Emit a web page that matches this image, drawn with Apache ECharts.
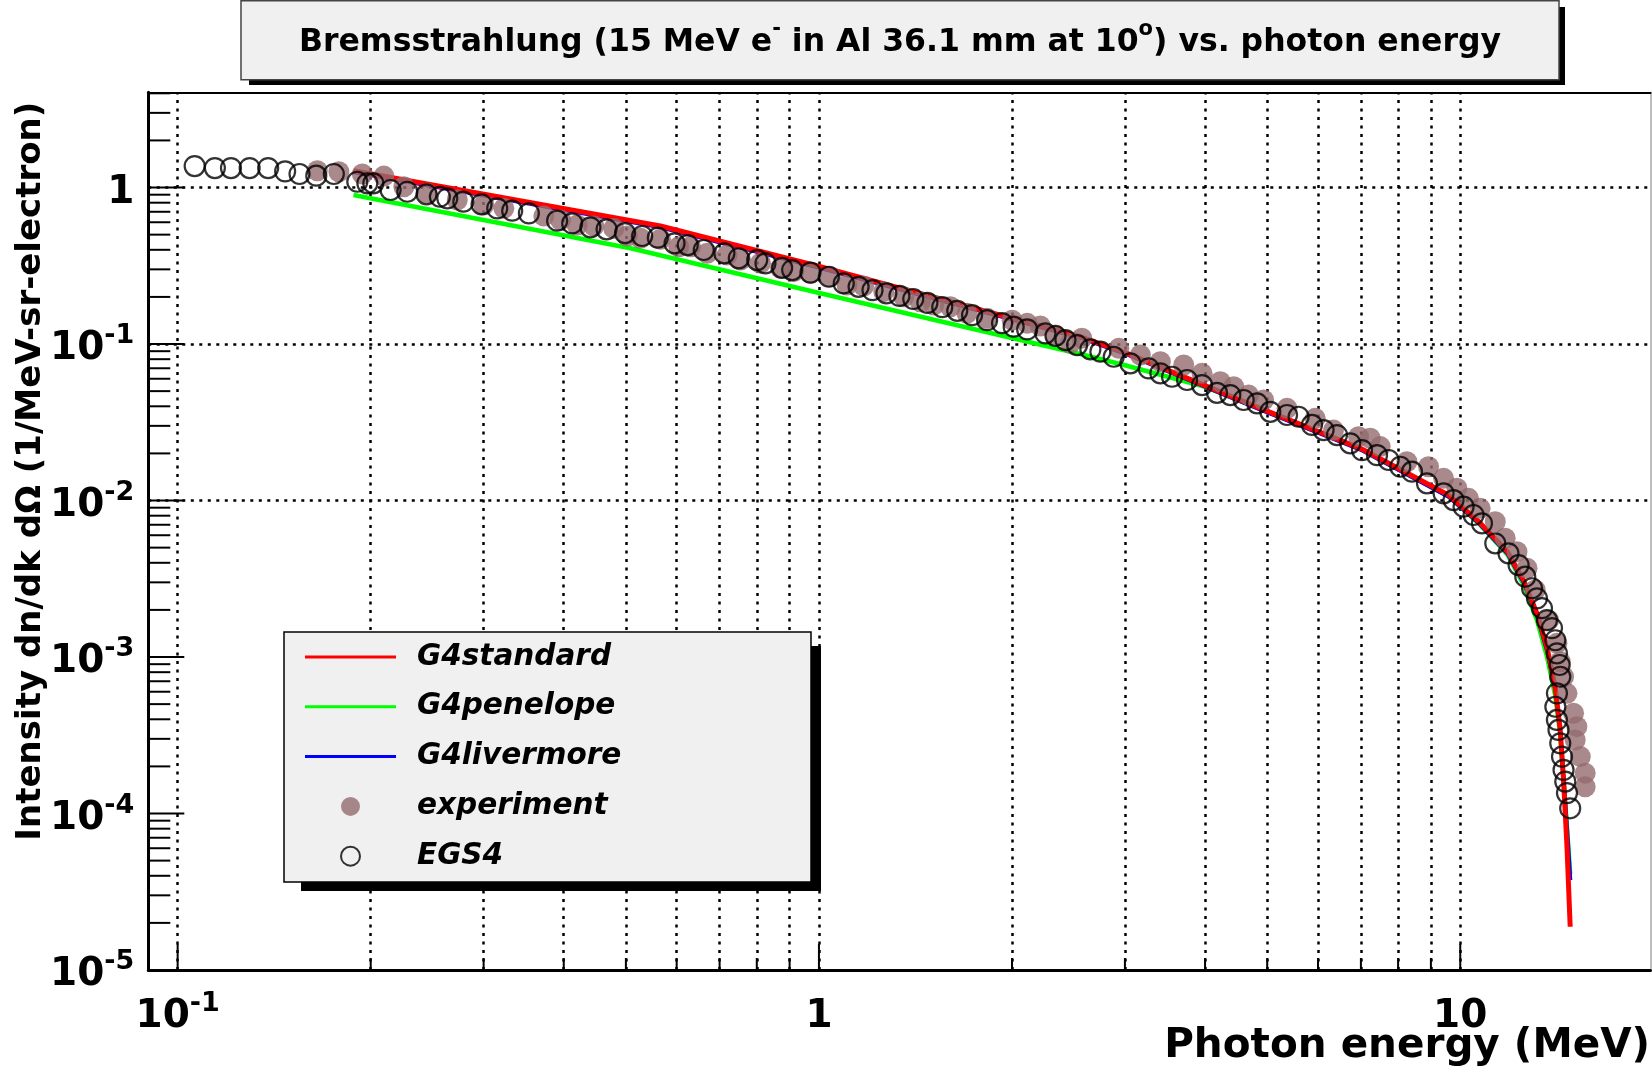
<!DOCTYPE html>
<html>
<head>
<meta charset="utf-8">
<script src="https://cdn.jsdelivr.net/npm/echarts@6/dist/echarts.min.js"></script>
<style>
  html, body { margin: 0; padding: 0; background: #fff; }
  #chart { width: 1652px; height: 1066px; }
</style>
</head>
<body>
<div id="chart"></div>
<script>
// photon energy (MeV) and intensity (1/MeV-sr-electron)
var egsX = [0.1063, 0.1143, 0.1211, 0.1295, 0.1384, 0.1471, 0.1549, 0.1645, 0.1752, 0.1906,
    0.1976, 0.2019, 0.2148, 0.2281, 0.2444, 0.2564, 0.2633, 0.2789, 0.2978, 0.3150,
    0.3324, 0.3529, 0.3906, 0.4123, 0.4402, 0.4665, 0.4984, 0.5301, 0.5607, 0.5954,
    0.6244, 0.6613, 0.7121, 0.7499, 0.8011, 0.8253, 0.8762, 0.9083, 0.9699, 1.036,
    1.093, 1.153, 1.212, 1.274, 1.335, 1.403, 1.476, 1.557, 1.643, 1.733,
    1.829, 1.930, 2.012, 2.112, 2.255, 2.338, 2.423, 2.527, 2.650, 2.747,
    2.882, 3.059, 3.267, 3.407, 3.553, 3.750, 3.957, 4.175, 4.380, 4.595,
    4.822, 5.056, 5.369, 5.597, 5.872, 6.122, 6.424, 6.737, 7.027, 7.417,
    7.732, 8.063, 8.409, 8.874, 9.419, 9.763, 10.12, 10.49, 10.81, 11.34,
    11.89, 12.33, 12.63, 12.94, 13.17, 13.41, 13.65, 13.90, 14.07, 14.15,
    14.29, 14.32, 14.15, 14.07, 14.15, 14.23, 14.32, 14.41, 14.49, 14.58, 14.67, 14.84];
var egsY = [1.372, 1.332, 1.332, 1.332, 1.332, 1.269, 1.220, 1.190, 1.220, 1.089,
    1.064, 1.064, 0.964, 0.940, 0.905, 0.873, 0.853, 0.812, 0.781, 0.736,
    0.711, 0.684, 0.614, 0.590, 0.557, 0.541, 0.512, 0.490, 0.478, 0.440,
    0.429, 0.399, 0.380, 0.353, 0.344, 0.328, 0.307, 0.297, 0.286, 0.269,
    0.244, 0.232, 0.221, 0.211, 0.203, 0.194, 0.183, 0.172, 0.163, 0.153,
    0.142, 0.136, 0.129, 0.124, 0.117, 0.1125, 0.106, 0.0985, 0.0925, 0.0893,
    0.0829, 0.0753, 0.0699, 0.0650, 0.0618, 0.0589, 0.0547, 0.0488, 0.0472, 0.0439,
    0.0418, 0.0369, 0.0352, 0.0343, 0.0304, 0.0282, 0.0262, 0.0232, 0.0210, 0.0195,
    0.01815, 0.01644, 0.01528, 0.01288, 0.01112, 0.01007, 0.00913, 0.00808, 0.00715, 0.00533,
    0.0046, 0.00387, 0.00326, 0.00275, 0.00237, 0.00205, 0.00172, 0.00153, 0.00128, 0.001056,
    8.89e-4, 7.48e-4, 5.86e-4, 4.81e-4, 3.96e-4, 3.42e-4, 2.81e-4, 2.31e-4, 1.90e-4, 1.60e-4, 1.35e-4, 1.08e-4];

var expX = [0.1651, 0.1784, 0.1941, 0.2097, 0.2253, 0.2450, 0.2729, 0.3002, 0.3226, 0.3724,
    0.3954, 0.4198, 0.4457, 0.4787, 0.5024, 0.5268, 0.5660, 0.6045, 0.6305, 0.6693,
    0.7190, 0.7546, 0.8106, 0.8710, 0.9136, 0.9699, 1.042, 1.106, 1.174, 1.262,
    1.356, 1.439, 1.510, 1.603, 1.702, 1.829, 2.001, 2.112, 2.214, 2.338,
    2.467, 2.570, 2.935, 3.171, 3.407, 3.705, 3.957, 4.225, 4.434, 4.677,
    4.936, 5.369, 5.941, 6.344, 6.941, 7.239, 7.502, 8.256, 8.923, 9.419,
    9.881, 10.30, 10.74, 11.34, 11.75, 12.26, 12.71, 13.09, 13.74, 14.15,
    14.32, 14.49, 14.67, 15.02, 15.20, 15.11, 15.39, 15.66, 15.66];
var expY = [1.280, 1.262, 1.220, 1.184, 1.012, 0.918, 0.832, 0.773, 0.736, 0.657,
    0.620, 0.576, 0.567, 0.548, 0.490, 0.474, 0.467, 0.418, 0.418, 0.380,
    0.370, 0.344, 0.328, 0.305, 0.290, 0.283, 0.269, 0.238, 0.235, 0.216,
    0.2005, 0.186, 0.1775, 0.173, 0.157, 0.146, 0.142, 0.1356, 0.1303, 0.1141,
    0.1010, 0.1088, 0.0939, 0.0851, 0.0771, 0.0734, 0.0650, 0.0574, 0.0534, 0.0472,
    0.0439, 0.0388, 0.0335, 0.0282, 0.0256, 0.0250, 0.0221, 0.0177, 0.01644, 0.01386,
    0.01197, 0.01033, 0.00891, 0.00732, 0.00574, 0.00471, 0.00369, 0.00268, 0.00172, 0.001223,
    9.33e-4, 7.48e-4, 5.86e-4, 4.37e-4, 3.59e-4, 2.95e-4, 2.31e-4, 1.81e-4, 1.48e-4];

var stdX = [0.188, 0.566, 1.005, 2.556, 3.022, 4.878, 6.985, 9.6, 10.7, 11.85, 12.55, 13.17, 13.65, 14.06, 14.32, 14.49, 14.67, 14.84];
var stdY = [1.28, 0.568, 0.312, 0.1113, 0.0872, 0.0388, 0.02156, 0.0108, 0.0073, 0.0047, 0.0031, 0.0019, 0.00116, 6.46e-4, 3.42e-4, 1.64e-4, 6.14e-5, 1.89e-5];

var penX = [0.188, 0.5085, 1.005, 2.556, 2.99, 4.0, 4.878, 6.985, 9.6, 10.7, 11.85, 12.55, 13.17, 13.65, 14.06, 14.32, 14.49, 14.67, 14.84];
var penY = [0.896, 0.409, 0.211, 0.0863, 0.0734, 0.0533, 0.0385, 0.0213, 0.0106, 0.0071, 0.0045, 0.0029, 0.00172, 0.00101, 5.7e-4, 3.2e-4, 1.65e-4, 8.2e-5, 4.1e-5];

var livX = [0.188, 0.566, 1.005, 2.556, 3.022, 4.878, 6.985, 9.6, 10.7, 11.85, 12.55, 13.17, 13.65, 14.06, 14.32, 14.49, 14.67, 14.86];
var livY = [1.25, 0.555, 0.305, 0.109, 0.0855, 0.038, 0.0211, 0.0105, 0.0071, 0.00455, 0.00298, 0.00182, 0.00109, 6.1e-4, 3.35e-4, 1.75e-4, 8.6e-5, 3.76e-5];

// axis ranges and tick values
var xMin = 0.09, xMax = 19.8;
var yMin = 1e-5, yMax = 4.06;
var xMajorTicks = [0.1, 1, 10];
var xMinorTicks = [0.2, 0.3, 0.4, 0.5, 0.6, 0.7, 0.8, 0.9, 2, 3, 4, 5, 6, 7, 8, 9];
var yMajorTicks = [1e-5, 1e-4, 1e-3, 1e-2, 0.1, 1];
var yMinorTicks = [2e-5, 3e-5, 4e-5, 5e-5, 6e-5, 7e-5, 8e-5, 9e-5,
    2e-4, 3e-4, 4e-4, 5e-4, 6e-4, 7e-4, 8e-4, 9e-4,
    2e-3, 3e-3, 4e-3, 5e-3, 6e-3, 7e-3, 8e-3, 9e-3,
    0.02, 0.03, 0.04, 0.05, 0.06, 0.07, 0.08, 0.09,
    0.2, 0.3, 0.4, 0.5, 0.6, 0.7, 0.8, 0.9,
    2, 3, 4];
var yGridVals = [1e-4, 1e-3, 1e-2, 0.1, 1];

function pairs(xs, ys) {
    var out = [];
    for (var i = 0; i < xs.length; i++) {
        out.push([xs[i], ys[i]]);
    }
    return out;
}

// "10^-n" style labels, empty for the range ends
function powerLabel(v) {
    var lg = Math.log10(v);
    var e = Math.round(lg);
    if (Math.abs(lg - e) > 1e-6) return '';
    if (e === 0) return '1';
    if (e === 1) return '10';
    return '10{s|' + e + '}';
}

function drawXTick(params, api) {
    var p = api.coord([api.value(0), api.value(1)]);
    var len = api.value(2) ? 26 : 12;
    return {
        type: 'line',
        shape: { x1: p[0], y1: p[1], x2: p[0], y2: p[1] - len },
        style: { stroke: '#000', lineWidth: 2 }
    };
}

function drawYTick(params, api) {
    var p = api.coord([api.value(0), api.value(1)]);
    var len = api.value(2) ? 36 : 22;
    return {
        type: 'line',
        shape: { x1: p[0], y1: p[1], x2: p[0] + len, y2: p[1] },
        style: { stroke: '#000', lineWidth: 2 }
    };
}

var xTickData = [], yTickData = [];
xMajorTicks.forEach(function (v) { xTickData.push([v, yMin, 1]); });
xMinorTicks.forEach(function (v) { xTickData.push([v, yMin, 0]); });
yMajorTicks.forEach(function (v) { yTickData.push([xMin, v, 1]); });
yMinorTicks.forEach(function (v) { yTickData.push([xMin, v, 0]); });

var gridLines = [];
xMajorTicks.concat(xMinorTicks).forEach(function (v) { gridLines.push({ xAxis: v }); });
yGridVals.forEach(function (v) { gridLines.push({ yAxis: v }); });

var font = 'DejaVu Sans';
// superscript: a short line box pinned to the top of a taller base line
var supStyle = {
    fontFamily: font, fontWeight: 'bold', fontSize: 27, lineHeight: 27,
    verticalAlign: 'top', color: '#000'
};
var linePath = 'path://M0,0H91V3H0Z';

var chart = echarts.init(document.getElementById('chart'));

var option = {
    animation: false,
    backgroundColor: '#fff',
    title: {
        text: 'Bremsstrahlung (15 MeV e{t|-} in Al 36.1 mm at 10{t|o}) vs. photon energy',
        left: 900,
        top: 19,
        padding: 0,
        textAlign: 'center',
        textStyle: {
            fontFamily: font, fontWeight: 'bold', fontSize: 31.5, lineHeight: 47, color: '#000',
            rich: {
                t: {
                    fontFamily: font, fontWeight: 'bold', fontSize: 21, lineHeight: 21,
                    verticalAlign: 'top', color: '#000'
                }
            }
        }
    },
    graphic: [
        // title box with its shadow
        { type: 'rect', silent: true, z: 0, shape: { x: 249, y: 7, width: 1316, height: 78 }, style: { fill: '#000' } },
        { type: 'rect', silent: true, z: 0, shape: { x: 241, y: 0.75, width: 1318, height: 79 }, style: { fill: '#f0f0f0', stroke: '#444', lineWidth: 1.5 } },
        // legend box with its shadow
        { type: 'rect', silent: true, z: 3, shape: { x: 301, y: 646, width: 520, height: 245 }, style: { fill: '#000' } },
        { type: 'rect', silent: true, z: 3, shape: { x: 284, y: 632, width: 527, height: 250 }, style: { fill: '#f0f0f0', stroke: '#000', lineWidth: 1.5 } }
    ],
    legend: {
        orient: 'vertical',
        left: 305,
        top: 642,
        padding: 0,
        itemGap: 19.8,
        itemWidth: 91,
        itemHeight: 19,
        selectedMode: false,
        z: 4,
        data: [
            { name: 'G4standard', icon: linePath },
            { name: 'G4penelope', icon: linePath },
            { name: 'G4livermore', icon: linePath },
            { name: 'experiment', icon: 'circle' },
            { name: 'EGS4', icon: 'circle', itemStyle: { color: 'rgba(0,0,0,0)', borderColor: '#000', borderWidth: 2 } }
        ],
        textStyle: {
            fontFamily: font, fontWeight: 'bold', fontStyle: 'italic', fontSize: 29.5,
            lineHeight: 30, color: '#000', padding: [0, 0, 0, 16]
        }
    },
    grid: {
        left: 148.3, right: 1.5, top: 92.3, bottom: 96,
        containLabel: false, outerBoundsMode: 'none', show: false
    },
    xAxis: [
        {
            type: 'log', logBase: 10, min: xMin, max: xMax, position: 'bottom',
            name: 'Photon energy (MeV)',
            nameLocation: 'end',
            nameGap: -0.5,
            nameMoveOverlap: false,
            nameTextStyle: {
                fontFamily: font, fontWeight: 'bold', fontSize: 40.5, color: '#000',
                align: 'right', verticalAlign: 'top', lineHeight: 40, padding: [56, 0, 0, 0]
            },
            axisLine: { show: true, onZero: false, lineStyle: { color: '#000', width: 3 } },
            axisTick: { show: false },
            splitLine: { show: false },
            axisLabel: {
                show: true, formatter: powerLabel, margin: 47, verticalAlign: 'middle',
                fontFamily: font, fontWeight: 'bold', fontSize: 39, lineHeight: 53, color: '#000',
                rich: { s: supStyle }
            }
        },
        {
            type: 'log', logBase: 10, min: xMin, max: xMax, position: 'top',
            axisLine: { show: true, onZero: false, lineStyle: { color: '#000', width: 2 } },
            axisTick: { show: false }, axisLabel: { show: false }, splitLine: { show: false }
        }
    ],
    yAxis: [
        {
            type: 'log', logBase: 10, min: yMin, max: yMax, position: 'left',
            name: 'Intensity dn/dk d\u03a9 (1/MeV-sr-electron)',
            nameLocation: 'middle',
            nameRotate: 90,
            nameGap: 100,
            nameMoveOverlap: false,
            nameTextStyle: {
                fontFamily: font, fontWeight: 'bold', fontSize: 34, color: '#000',
                padding: [0, 0, 0, 120]
            },
            axisLine: { show: true, onZero: false, lineStyle: { color: '#000', width: 3 } },
            axisTick: { show: false },
            splitLine: { show: false },
            axisLabel: {
                show: true, formatter: powerLabel, margin: 14, padding: [10, 0, 0, 0],
                fontFamily: font, fontWeight: 'bold', fontSize: 39, lineHeight: 53, color: '#000',
                rich: { s: supStyle }
            }
        },
        {
            type: 'log', logBase: 10, min: yMin, max: yMax, position: 'right',
            axisLine: { show: true, onZero: false, lineStyle: { color: '#aaa', width: 1.5 } },
            axisTick: { show: false }, axisLabel: { show: false }, splitLine: { show: false }
        }
    ],
    series: [
        {
            name: 'gridlines', type: 'line', data: [], silent: true,
            markLine: {
                silent: true, z: 1, animation: false,
                symbol: ['none', 'none'],
                label: { show: false },
                emphasis: { disabled: true },
                lineStyle: { color: '#000', width: 2.5, type: [3, 5.5] },
                data: gridLines
            }
        },
        {
            name: 'experiment', type: 'scatter', data: pairs(expX, expY),
            symbol: 'circle', symbolSize: 21, z: 2,
            itemStyle: { color: '#946c6e' }
        },
        {
            name: 'EGS4', type: 'scatter', data: pairs(egsX, egsY),
            symbol: 'circle', symbolSize: 20, z: 2,
            itemStyle: { color: 'rgba(0,0,0,0)', borderColor: '#000', borderWidth: 2.2 }
        },
        {
            name: 'G4penelope', type: 'line', data: pairs(penX, penY), z: 2,
            symbol: 'none', showSymbol: false,
            itemStyle: { color: '#00ff00' }, lineStyle: { color: '#00ff00', width: 4.5 }
        },
        {
            name: 'G4livermore', type: 'line', data: pairs(livX, livY), z: 2,
            symbol: 'none', showSymbol: false,
            itemStyle: { color: '#0000ff' }, lineStyle: { color: '#0000ff', width: 3.5 }
        },
        {
            name: 'G4standard', type: 'line', data: pairs(stdX, stdY), z: 2,
            symbol: 'none', showSymbol: false,
            itemStyle: { color: '#ff0000' }, lineStyle: { color: '#ff0000', width: 5 }
        },
        {
            name: 'xTicks', type: 'custom', data: xTickData, silent: true, clip: false, z: 3,
            encode: { x: 0, y: 1 }, renderItem: drawXTick
        },
        {
            name: 'yTicks', type: 'custom', data: yTickData, silent: true, clip: false, z: 3,
            encode: { x: 0, y: 1 }, renderItem: drawYTick
        }
    ]
};

chart.setOption(option);
window.addEventListener('resize', chart.resize);
</script>
</body>
</html>
